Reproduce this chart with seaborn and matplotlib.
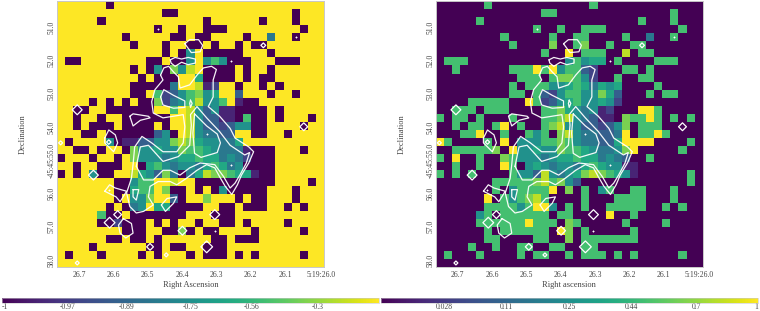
import numpy as np
import pandas as pd
import seaborn as sns
import matplotlib.pyplot as plt
from matplotlib.colors import PowerNorm

# left map: . = top of scale, # = bottom of scale
left_rows = [
    "......#.... ........... ...........",
    "........... ..##....... .......#...",
    ".....#..... .......#... ...#...#...",
    "........... .#..#..###. ........#..",
    "........#.. ...##.##... .#..4..#...",
    ".........#. ..#..##.#.. #.##.......",
    "........... ..#.#5.#### #...#......",
    ".##........ ##.##5.575# ##...###...",
    ".........#. #5#859.#### .#..#......",
    "..........# .###..6#### .#.##......",
    ".........## ###4..912.. #..#.#.....",
    ".........## .72357856.. 3...#..#...",
    "....#.#.#.# #824579557. 1##........",
    "..##..##### #..7.953511 ####.#.....",
    "..#..#..### ###..953311 #7##.#...#.",
    "..#.###.### #.#..953323 55##....#..",
    "...##.##### #35#.954433 ..##..#....",
    ".#....5#113 35589865544 6..........",
    "..##.#..#85 56558776544 41###...#..",
    "#...#..#.85 55456676645 42###......",
    "..#..###..# 67545546764 5####......",
    "#.#.5##..96 5384#469887 661##......",
    ".......##57 7..9..##### #####....#.",
    ".......##67 7.8##.#.#5# ####...#...",
    ".......#.55 8..3#..8... #.##...#...",
    "......#.#45 .66####..## .###..#.#..",
    ".....7##.## #####...### ...........",
    ".....##2### .#.#..#..## .#....#....",
    "........### ..##8#.##.. ..#.....#..",
    "......##.## .#......##. ###........",
    "....#...... ##.##..###. ...........",
    ".#...#....# .#...#.###. #.#.....#..",
    "........... ........... ...........",
]

# right map: . = bottom of scale, X = top of scale
right_rows = [
    "......7.... ........7.. ...........",
    "........... ..77....... .......7...",
    ".....7..... ........... ...7...7...",
    "........... .7..7..777. ........7..",
    "........7.. ...7..77... .7..4..7...",
    ".........7. ...8..78..7 ..77.......",
    "........... ..7..X.777. .9.77......",
    ".777....... .....57566. 7....777...",
    "..7......77 7X7X57732.. .77.7......",
    "..........7 77.788752.. 7..77......",
    ".........7. 77755676465 6....7.....",
    ".........77 .7325775586 3...7.77...",
    "....77777.. X7235675565 2..........",
    "..777.777.. ..778654512 ...XX7.....",
    "7.77.7...7. ..778954311 .877X7.7.7.",
    "..7.77.7X.7 ..789553323 58.777.....",
    "...77X..7.. 757.8954433 4X.77X7....",
    "X7....7.X.5 55778754433 6XXXX....7.",
    "..777778.X5 56558776544 58X.....7..",
    "7.X..7..875 55456676645 43..7......",
    "..7..7..X7. 56545546765 511........",
    "7.7.7....75 53954568987 651......7.",
    ".......7777 7897853.... .........7.",
    ".......7.57 777X.8.7.57 ..77...7...",
    "......X.757 897....7... 7777...7...",
    "......77775 7XX5.7.7..7 7777..7.7..",
    ".....57.777 777.77....X ..7........",
    ".....777777 X777.87.... .7....7....",
    "......7.777 777.X8.7... ..7........",
    "......77... .77..8.7777 777........",
    "....7..7..7 7..77..77.. ...........",
    ".7...7....7 .77..7.777. 7.7.....7..",
    "........... ........... ...........",
]

levels = dict(zip("0123456789X", [0, .01, .04, .09, .16, .25, .36, .49, .64, .81, 1]))

# flux contours in map cells (column, row)
contour_outer = [(12.8, 9.2), (13.2, 8.3), (13.8, 8.1), (14.4, 8.8), (15.0, 9.4), (15.2, 10.8), (16.4, 10.4),
                 (17.3, 9.2), (18.1, 8.3), (19.1, 8.1), (19.7, 8.5), (19.3, 9.8), (19.3, 11.9), (18.7, 13.1),
                 (20.1, 14.3), (21.4, 15.8), (22.0, 17.0), (23.7, 18.1), (24.3, 18.7), (23.7, 20.1), (22.8, 21.6),
                 (22.3, 22.8), (21.6, 24.0), (20.8, 23.0), (20.1, 21.8), (19.5, 20.7), (18.5, 20.3), (17.3, 21.0),
                 (16.0, 22.0), (14.8, 22.8), (14.0, 22.4), (12.5, 22.4), (11.5, 23.0), (11.3, 24.3), (11.9, 25.3),
                 (10.7, 26.1), (9.8, 26.3), (9.0, 25.5), (8.6, 23.8), (9.2, 22.0), (9.4, 20.3), (9.6, 18.1),
                 (10.5, 16.8), (11.7, 17.6), (13.1, 18.7), (14.8, 18.7), (15.6, 17.6), (15.8, 15.6), (15.6, 14.1),
                 (13.1, 14.5), (11.9, 13.9), (11.7, 12.5), (12.1, 11.0), (13.1, 9.8)]
contour_mid = [(9.8, 20.5), (10.3, 18.1), (11.3, 17.9), (13.1, 19.9), (15.0, 19.3), (16.4, 17.9), (16.6, 15.4),
               (16.5, 14.1), (17.3, 13.1), (18.5, 14.5), (20.1, 16.2), (21.4, 17.9), (23.2, 19.1), (23.8, 18.8),
               (23.4, 20.1), (22.6, 21.6), (22.0, 22.6), (21.4, 23.2), (20.6, 21.8), (19.5, 20.3), (17.7, 20.1),
               (16.4, 20.7), (15.2, 21.6), (14.0, 21.0), (13.1, 21.0), (11.9, 22.2), (10.7, 22.2)]
contour_lobe = [(12.8, 11.9), (13.2, 11.0), (14.4, 11.7), (15.8, 12.4), (15.8, 13.2), (14.4, 13.3), (13.1, 12.9)]
contour_core = [(17.0, 14.0), (18.5, 15.5), (19.8, 16.5), (20.2, 17.6), (19.8, 18.8), (17.8, 19.4), (17.0, 18.9), (16.8, 16.4)]
contour_drop = [(16.5, 12.3), (16.7, 12.7), (16.5, 13.2), (16.4, 12.7)]
contour_hex = [(15.8, 5.3), (16.4, 4.8), (17.5, 4.8), (18.0, 5.5), (17.7, 6.3), (16.6, 6.4)]
contour_wave = [(14.0, 7.3), (14.6, 7.0), (15.4, 7.2), (16.2, 7.0), (17.1, 7.2), (17.1, 7.7), (16.2, 7.9), (15.4, 7.6), (14.6, 8.1), (14.1, 7.7)]
contour_west = [(9.0, 14.3), (9.4, 14.0), (11.3, 14.3), (11.5, 14.5), (10.3, 14.8), (9.4, 15.5)]
contour_knot = [(5.9, 17.0), (6.4, 16.0), (7.2, 16.6), (7.5, 17.6), (7.0, 18.7), (5.9, 17.6)]
contour_sw = [(5.9, 23.6), (6.5, 22.8), (7.2, 23.2), (8.6, 23.6), (7.8, 24.9), (7.3, 24.3)]
contour_sw2 = [(9.4, 23.4), (10.1, 23.4), (9.8, 24.7), (9.4, 24.3)]
contour_s = [(12.9, 25.3), (13.6, 24.5), (14.8, 24.3), (14.4, 25.1), (13.4, 26.1)]
contour_s2 = [(8.2, 27.0), (9.2, 27.6), (9.4, 28.8), (8.5, 29.4), (7.8, 28.8), (7.6, 27.8)]
contours = [contour_outer, contour_mid, contour_lobe, contour_core, contour_drop, contour_hex, contour_wave,
            contour_west, contour_knot, contour_sw, contour_sw2, contour_s, contour_s2]

# small isolated contours
spot_col = [2.5, 6.4, 0.45, 25.5, 30.5, 4.5, 7.5, 6.5, 19.5, 15.5, 11.5, 18.5, 13.5, 2.5]
spot_row = [13.5, 17.5, 17.6, 5.5, 15.6, 21.6, 26.5, 27.5, 26.5, 28.5, 30.5, 30.5, 31.5, 32.5]
spot_size = [25, 5, 4, 6, 16, 25, 16, 30, 25, 20, 12, 36, 4, 4]
dot_col = [12.5, 29.5, 21.5, 18.5, 21.5, 6.4, 19.5]
dot_row = [3.5, 4.5, 7.5, 16.5, 20.4, 23.5, 28.5]

ra_labels = ["26.7", "26.6", "26.5", "26.4", "26.3", "26.2", "26.1", "5:19:26.0"]
ra_ticks = [2.72, 6.95, 11.2, 15.45, 19.7, 23.95, 28.2, 32.6]
dec_labels = ["51.0", "52.0", "53.0", "54.0", "-45:45:55.0", "56.0", "57.0", "58.0"]
dec_ticks = [3.26, 7.38, 11.5, 15.63, 19.75, 23.88, 28.0, 32.13]

left_cbar_ticks = [-1, -.97, -.89, -.75, -.56, -.3]
left_cbar_labels = ["-1", "-0.97", "-0.89", "-0.75", "-0.56", "-0.3"]
right_cbar_ticks = [.028, .11, .25, .44, .7, 1]
right_cbar_labels = ["0.028", "0.11", "0.25", "0.44", "0.7", "1"]


def to_frame(rows, dot, offset=0.0):
    out = []
    for row in rows:
        row = row.replace(" ", "").replace(".", dot).replace("#", "0")
        out.append([levels[ch] + offset for ch in row])
    return pd.DataFrame(out)


sns.set_theme(style="white")
plt.rcParams["font.family"] = ["Liberation Serif", "DejaVu Serif"]
grey = "#444444"

fig = plt.figure(figsize=(7.6, 3.11), dpi=100)
W, H = 760.0, 311.0


def draw_panel(frame, left_px, cbar_px, vmin, vmax, xlabel, ticks, labels):
    ax = fig.add_axes([left_px / W, 1 - 267 / H, 267 / W, 266 / H])
    cax = fig.add_axes([cbar_px[0] / W, 1 - 302.7 / H, (cbar_px[1] - cbar_px[0]) / W, 5 / H])
    sns.heatmap(frame, ax=ax, cmap="viridis", norm=PowerNorm(0.5, vmin=vmin, vmax=vmax),
                xticklabels=False, yticklabels=False, cbar_ax=cax,
                cbar_kws={"orientation": "horizontal"})
    for path in contours:
        xs = [p[0] for p in path] + [path[0][0]]
        ys = [p[1] for p in path] + [path[0][1]]
        ax.plot(xs, ys, color="white", lw=0.9, alpha=0.95)
    ax.scatter(spot_col, spot_row, s=spot_size, marker="D", facecolor="none", edgecolor="white", linewidth=0.9, zorder=3)
    ax.scatter(dot_col, dot_row, s=1.5, marker="D", color="white", linewidth=0, zorder=3)

    ax.set_xticks(ra_ticks)
    ax.set_xticklabels(ra_labels, fontsize=5.5, color=grey)
    ax.set_yticks(dec_ticks)
    ax.set_yticklabels(dec_labels, fontsize=5.5, color=grey, rotation=90, va="center")
    ax.tick_params(length=0, pad=3)
    ax.tick_params(axis="y", pad=1)
    ax.set_xlabel(xlabel, fontsize=6, color=grey, labelpad=1)
    ax.set_ylabel("Declination", fontsize=6, color=grey, labelpad=15)
    for side in ax.spines.values():
        side.set_visible(True)
        side.set_color("#c8c8c8")
        side.set_linewidth(0.7)

    cbar = ax.collections[0].colorbar
    cbar.set_ticks(ticks)
    cbar.set_ticklabels(labels)
    cbar.ax.tick_params(length=0, labelsize=5.5, labelcolor=grey, pad=0.5)
    cbar.outline.set_edgecolor("#c8c8c8")
    cbar.outline.set_linewidth(0.4)
    # keep the end labels inside the figure
    tick_text = cbar.ax.get_xticklabels()
    if ticks[0] == -1:
        tick_text[0].set_ha("left")
    if ticks[-1] == 1:
        tick_text[-1].set_ha("right")


draw_panel(to_frame(left_rows, "X", -1.0), 57, (2, 379), -1, 0, "Right Ascension", left_cbar_ticks, left_cbar_labels)
draw_panel(to_frame(right_rows, "0"), 435.7, (380.7, 758), 0, 1, "Right ascension", right_cbar_ticks, right_cbar_labels)

fig.savefig("out.png", dpi=100)
